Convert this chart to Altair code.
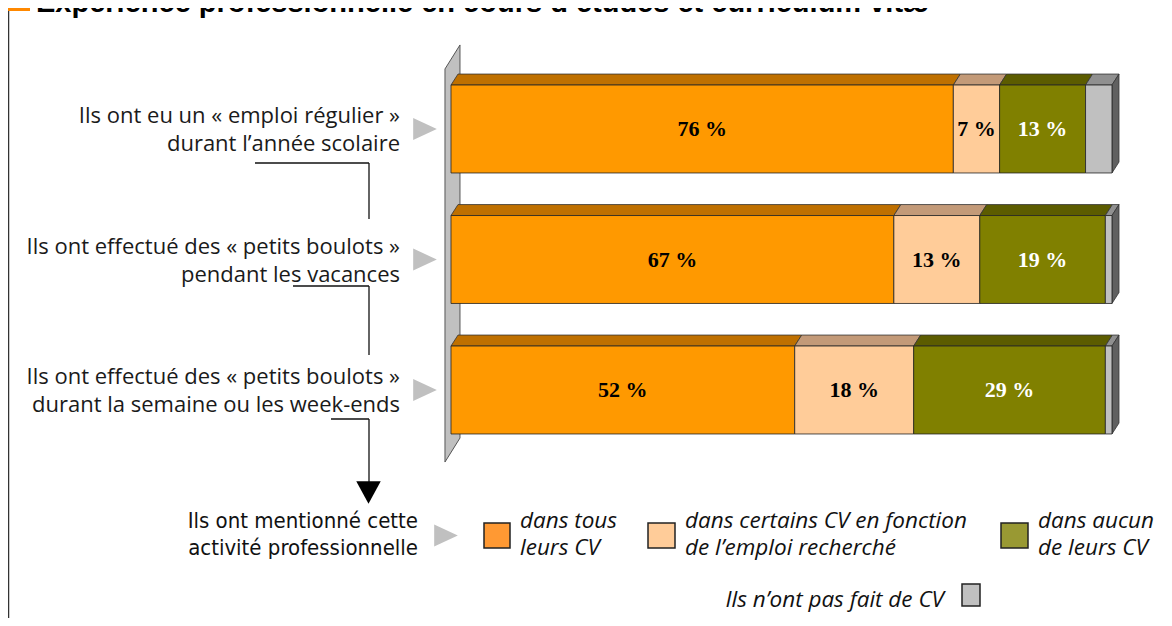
import altair as alt
import pandas as pd

# ---------------- data ----------------
categories = [
    "Ils ont eu un « emploi régulier »\ndurant l’année scolaire",
    "Ils ont effectué des « petits boulots »\npendant les vacances",
    "Ils ont effectué des « petits boulots »\ndurant la semaine ou les week-ends",
]
series = ["tous", "certains", "aucun", "pas_cv"]
tous = [76, 67, 52]
certains = [7, 13, 18]
aucun = [13, 19, 29]
pas_cv = [4, 1, 1]

legend_labels = [
    ["dans tous", "leurs  CV"],
    ["dans certains CV en fonction", "de l’emploi recherché"],
    ["dans aucun", "de leurs CV"],
    ["Ils n’ont pas fait de CV"],
]
legend_intro = ["Ils ont mentionné cette", "activité professionnelle"]
title_text = "Expérience professionnelle en cours d’études et curriculum vitæ"

# ---------------- styles ----------------
front_colors = ["#FF9900", "#FFCC99", "#808000", "#C0C0C0"]
top_colors = ["#BF7000", "#C39A78", "#5C5C00", "#909090"]
label_colors = ["#000000", "#000000", "#FFFFFF", "#000000"]
legend_colors = ["#FF9933", "#FFCC99", "#999933", "#C0C0C0"]

W, H = 1156, 610
HALF = 0.337      # half bar thickness (row units)
DX = 1.06         # 3D depth in % units
DY = 0.084        # 3D depth in row units

xs = alt.Scale(domain=[-67.02, 107.87], nice=False, zero=False)
ys = alt.Scale(domain=[-0.9272, 3.7471], nice=False, zero=False, reverse=True)

# ---------------- tables ----------------
vals = [tous, certains, aucun, pas_cv]
fronts, tops, labels = [], [], []
for i in range(len(categories)):
    start = 0
    for j, s in enumerate(series):
        v = vals[j][i]
        end = start + v
        seg = f"{i}-{s}"
        fronts.append(dict(row=i, s=s, x0=start, x1=end, yt=i - HALF, yb=i + HALF))
        tops.append(dict(seg=seg, s=s, y=i - HALF, xa=start, xb=end))
        tops.append(dict(seg=seg, s=s, y=i - HALF - DY, xa=start + DX, xb=end + DX))
        if s != "pas_cv":
            labels.append(dict(row=i, s=s, xm=(start + end) / 2, txt=f"{v} %"))
        start = end
fronts = pd.DataFrame(fronts)
tops = pd.DataFrame(tops)
labels = pd.DataFrame(labels)

sides = []
for i in range(len(categories)):
    tot = tous[i] + certains[i] + aucun[i] + pas_cv[i]
    sides.append(dict(seg=i, x=tot, ya=i - HALF, yb=i + HALF))
    sides.append(dict(seg=i, x=tot + DX, ya=i - HALF - DY, yb=i + HALF - DY))
sides = pd.DataFrame(sides)

wall = pd.DataFrame(dict(x=[-0.91, 1.36], ya=[-0.46, -0.644], yb=[2.552, 2.368]))
rows = pd.DataFrame(dict(row=list(range(len(categories))), cat=categories))
one = pd.DataFrame(dict(k=[0]))

fc = alt.Color("s:N", scale=alt.Scale(domain=series, range=front_colors), legend=None)
tc = alt.Color("s:N", scale=alt.Scale(domain=series, range=top_colors), legend=None)
lc = alt.Color("s:N", scale=alt.Scale(domain=series, range=label_colors), legend=None)

SANS = "Open Sans"
layers = []

# wall
layers.append(alt.Chart(wall).mark_area(orient="vertical", fill="#C0C0C0", stroke="#555555", strokeWidth=1).encode(
    x=alt.X("x:Q", scale=xs, axis=None),
    y=alt.Y("ya:Q", scale=ys, axis=None, stack=None),
    y2="yb:Q",
))
# top faces
layers.append(alt.Chart(tops).mark_area(orient="horizontal", stroke="#333333", strokeWidth=0.8, opacity=1).encode(
    y=alt.Y("y:Q", scale=ys, axis=None),
    x=alt.X("xa:Q", scale=xs, axis=None, stack=None),
    x2="xb:Q",
    detail="seg:N",
    color=tc,
))
# side faces
layers.append(alt.Chart(sides).mark_area(orient="vertical", fill="#606060", stroke="#333333", strokeWidth=0.8).encode(
    x=alt.X("x:Q", scale=xs, axis=None),
    y=alt.Y("ya:Q", scale=ys, axis=None, stack=None),
    y2="yb:Q",
    detail="seg:N",
))
# front faces
layers.append(alt.Chart(fronts).mark_rect(stroke="#222222", strokeWidth=0.8).encode(
    x=alt.X("x0:Q", scale=xs, axis=None),
    x2="x1:Q",
    y=alt.Y("yt:Q", scale=ys, axis=None),
    y2="yb:Q",
    color=fc,
))
# value labels
layers.append(alt.Chart(labels).mark_text(font="Liberation Serif", fontWeight="bold", fontSize=22, baseline="middle").encode(
    x=alt.X("xm:Q", scale=xs, axis=None),
    y=alt.Y("row:Q", scale=ys, axis=None),
    text="txt:N",
    color=lc,
))
# category labels (two lines, centred on the row)
layers.append(alt.Chart(rows).mark_text(align="right", baseline="middle", lineBreak="\n", font=SANS,
                                       fontSize=22, lineHeight=28, color="#1a1a1a", dy=-13).encode(
    x=alt.value(392),
    y=alt.Y("row:Q", scale=ys, axis=None),
    text="cat:N",
))
tri_right = "M-1,-0.92L1,0L-1,0.92Z"
layers.append(alt.Chart(rows).mark_point(shape=tri_right, filled=True, fill="#C0C0C0", opacity=1, size=560, strokeWidth=0).encode(
    x=alt.value(417),
    y=alt.Y("row:Q", scale=ys, axis=None),
))

# ---------------- decorations (pixel positions) ----------------
def rule(x1, y1, x2, y2, color="#111111", w=1.3):
    return alt.Chart(one).mark_rule(color=color, strokeWidth=w).encode(
        x=alt.value(x1), x2=alt.value(x2), y=alt.value(y1), y2=alt.value(y2))

layers += [
    rule(0.5, 2, 0.5, 610, color="#333333", w=1.5),
    rule(247, 155, 361, 155), rule(361, 155, 361, 211),
    rule(285, 278, 361, 278), rule(361, 278, 361, 347),
    rule(323, 411, 361, 411), rule(361, 411, 361, 474),
]
tri_down = "M-1,-0.92L1,-0.92L0,0.92Z"
layers.append(alt.Chart(one).mark_point(shape=tri_down, filled=True, fill="#000000", opacity=1, size=600, strokeWidth=0).encode(
    x=alt.value(360.5), y=alt.value(484.5)))

# title (cut at the top like the reference)
layers.append(alt.Chart(one).mark_rect(color="#FF8800").encode(
    x=alt.value(0), x2=alt.value(22), y=alt.value(0), y2=alt.value(3)))
layers.append(alt.Chart(one).mark_text(align="left", baseline="alphabetic", font="Liberation Sans",
                                      fontWeight="bold", fontSize=29, color="#000000").encode(
    x=alt.value(28), y=alt.value(4), text=alt.value(title_text)))


def text_line(txt, x, y, align, font, size, italic=False):
    kw = dict(align=align, baseline="middle", font=font, fontSize=size, color="#111111")
    if italic:
        kw["fontStyle"] = "italic"
    return alt.Chart(one).mark_text(**kw).encode(x=alt.value(x), y=alt.value(y), text=alt.value(txt))


# legend
for n, line in enumerate(legend_intro):
    layers.append(text_line(line, 410, 513 + 27 * n, "right", "'DejaVu Sans Condensed', Roboto", 22))
layers.append(alt.Chart(one).mark_point(shape=tri_right, filled=True, fill="#C0C0C0", opacity=1, size=560, strokeWidth=0).encode(
    x=alt.value(438), y=alt.value(527.5)))

sw = [(476, 502, 515, 540), (640, 667, 515, 540), (993, 1020, 515, 540), (954, 972, 576, 598)]
tx = [(512, 513, "left"), (677, 513, "left"), (1030, 513, "left"), (936, 592, "right")]
for k in range(4):
    x1, x2, y1, y2 = sw[k]
    layers.append(alt.Chart(one).mark_rect(fill=legend_colors[k], stroke="#222222", strokeWidth=1.5).encode(
        x=alt.value(x1), x2=alt.value(x2), y=alt.value(y1), y2=alt.value(y2)))
    px, py, al = tx[k]
    for n, line in enumerate(legend_labels[k]):
        layers.append(text_line(line, px, py + 27 * n, al, SANS, 22.5, italic=True))

chart = alt.layer(*layers).resolve_scale(x="independent", y="independent", color="independent").properties(
    width=W, height=H, padding=0, autosize="none"
).configure_view(stroke=None)

chart.save("out.html", embed_options={"renderer": "svg", "actions": False})
